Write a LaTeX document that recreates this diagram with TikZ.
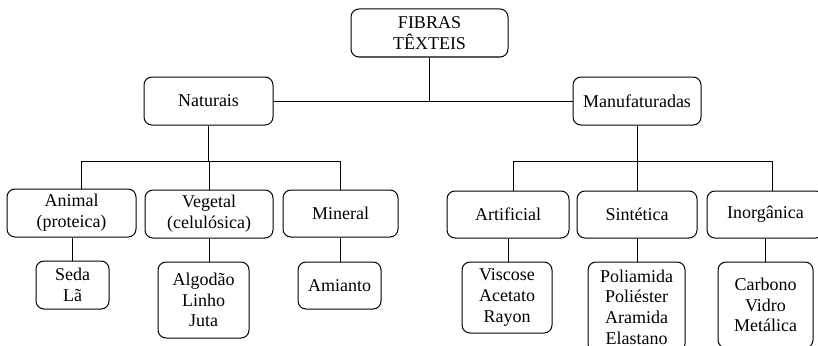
\documentclass[tikz,border=0pt]{standalone}
\usepackage{fontspec}
\setmainfont{Liberation Serif}
\usepackage{tikz}
\usetikzlibrary{calc}

\begin{document}
\begin{tikzpicture}[x=1pt,y=-1pt,line width=1pt,
    box/.style={draw,rounded corners=8pt,align=center,inner sep=0pt,
      font=\fontsize{18}{20.7}\selectfont}]
    \clip (0,0) rectangle (818,345);
    \node[box,minimum width=157pt,minimum height=48pt] (fib) at (429.5,33) {FIBRAS\\TÊXTEIS};
    \node[box,minimum width=129pt,minimum height=48pt] (nat) at (208.5,101) {Naturais};
    \node[box,minimum width=128pt,minimum height=48pt] (man) at (637,101) {Manufaturadas};

    \node[box,minimum width=129pt,minimum height=48pt] (ani) at (71.5,213) {Animal\\(proteica)};
    \node[box,minimum width=128pt,minimum height=48pt] (veg) at (209,214) {Vegetal\\(celulósica)};
    \node[box,minimum width=115pt,minimum height=47pt] (min) at (340.5,213.5) {Mineral};
    \node[box,minimum width=122pt,minimum height=47pt] (art) at (508,214.5) {Artificial};
    \node[box,minimum width=120pt,minimum height=47pt] (sin) at (637,214.5) {Sintética};
    \node[box,minimum width=117pt,minimum height=47pt] (ino) at (765.5,214.5) {Inorgânica};

    \node[box,minimum width=73pt,minimum height=48pt] (sed) at (72.5,285) {Seda\\Lã};
    \node[box,minimum width=91pt,minimum height=76pt] (alg) at (203.5,300) {Algodão\\Linho\\Juta};
    \node[box,minimum width=83pt,minimum height=47pt] (ami) at (339.5,285.5) {Amianto};
    \node[box,minimum width=90pt,minimum height=71pt] (vis) at (507,297.5) {Viscose\\Acetato\\Rayon};
    \node[box,minimum width=97pt,minimum height=90pt] (pol) at (636.5,307) {Poliamida\\Poliéster\\Aramida\\Elastano};
    \node[box,minimum width=95pt,minimum height=86pt] (car) at (765.5,305) {Carbono\\Vidro\\Metálica};

    \coordinate (nbl) at (81,161);
    \coordinate (nbr) at (340,161);
    \coordinate (mbl) at (513,161);
    \coordinate (mbr) at (772,161);

    \draw (nat.east) -- (man.west) (fib.south) -- (fib.south |- nat.east);
    \draw (nat.south) -- (nat.south |- nbl) (nbl) -- (nbr);
    \draw (nbl) -- (nbl |- ani.north) (veg.north) -- (veg.north |- nbl) (nbr) -- (nbr |- min.north);
    \draw (man.south) -- (man.south |- mbl) (mbl) -- (mbr);
    \draw (mbl) -- (mbl |- art.north) (sin.north) -- (sin.north |- mbl) (mbr) -- (mbr |- ino.north);
    \draw (sed.north) -- (sed.north |- ani.south) (veg.south) -- (veg.south |- alg.north)
    (min.south) -- (min.south |- ami.north);
    \draw (art.south) -- (art.south |- vis.north) (sin.south) -- (sin.south |- pol.north)
    (ino.south) -- (ino.south |- car.north);
\end{tikzpicture}
\end{document}
